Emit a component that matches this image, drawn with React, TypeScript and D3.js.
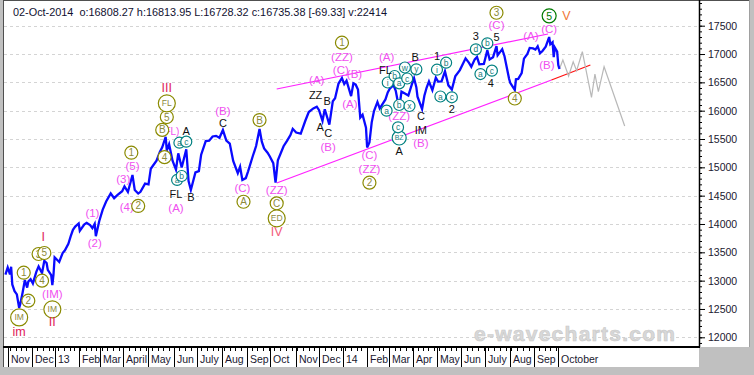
import React, { useEffect, useRef } from "react";
import * as d3 from "d3";

const W = 754;
const H = 375;
const FONT = "'Liberation Sans', Arial, sans-serif";

// NYSE closed days in range -> x axis counts trading days only
const holidays = [
  "2012-10-29", "2012-10-30", "2012-11-22", "2012-12-25",
  "2013-01-01", "2013-01-21", "2013-02-18", "2013-03-29", "2013-05-27",
  "2013-07-04", "2013-09-02", "2013-11-28", "2013-12-25",
  "2014-01-01", "2014-01-20", "2014-02-17", "2014-04-18", "2014-05-26",
  "2014-07-04", "2014-09-01", "2014-11-27", "2014-12-25",
];

// Dow price trace
const price2012: [string, number][] = [
  ["2012-10-26", 13107], ["2012-11-01", 13232], ["2012-11-05", 13112], ["2012-11-06", 13246],
  ["2012-11-07", 12933], ["2012-11-09", 12815], ["2012-11-13", 12756], ["2012-11-15", 12520],
  ["2012-11-16", 12588], ["2012-11-20", 12788], ["2012-11-23", 13010], ["2012-11-27", 12878],
  ["2012-11-28", 12985], ["2012-11-30", 13026], ["2012-12-04", 12951], ["2012-12-07", 13155],
  ["2012-12-11", 13249], ["2012-12-13", 13170], ["2012-12-14", 13135], ["2012-12-18", 13351],
  ["2012-12-20", 13312], ["2012-12-21", 13190], ["2012-12-27", 13096], ["2012-12-28", 12920],
  ["2012-12-31", 13104],
];

const price2013: [string, number][] = [
  ["2013-01-02", 13412], ["2013-01-08", 13329], ["2013-01-11", 13488], ["2013-01-15", 13535],
  ["2013-01-18", 13650], ["2013-01-23", 13780], ["2013-01-25", 13896], ["2013-01-29", 13955],
  ["2013-02-01", 14010], ["2013-02-04", 13880], ["2013-02-08", 13993], ["2013-02-12", 14019],
  ["2013-02-15", 13982], ["2013-02-20", 13928], ["2013-02-22", 14001], ["2013-02-25", 13784],
  ["2013-02-28", 14054], ["2013-03-05", 14254], ["2013-03-08", 14397], ["2013-03-14", 14539],
  ["2013-03-19", 14456], ["2013-03-22", 14512], ["2013-03-28", 14579], ["2013-04-02", 14662],
  ["2013-04-05", 14565], ["2013-04-11", 14865], ["2013-04-15", 14599], ["2013-04-18", 14537],
  ["2013-04-22", 14568], ["2013-04-26", 14713], ["2013-05-01", 14700], ["2013-05-03", 14974],
  ["2013-05-10", 15118], ["2013-05-15", 15275], ["2013-05-17", 15354], ["2013-05-22", 15540],
  ["2013-05-23", 15294], ["2013-05-28", 15409], ["2013-05-31", 15116], ["2013-06-05", 14960],
  ["2013-06-07", 15248], ["2013-06-12", 14996], ["2013-06-18", 15318], ["2013-06-20", 14758],
  ["2013-06-24", 14600], ["2013-06-28", 14910], ["2013-07-03", 14933], ["2013-07-08", 15224],
  ["2013-07-12", 15464], ["2013-07-17", 15470], ["2013-07-22", 15545], ["2013-07-25", 15556],
  ["2013-07-30", 15521], ["2013-08-02", 15658], ["2013-08-07", 15471], ["2013-08-12", 15419],
  ["2013-08-15", 15112], ["2013-08-21", 14897], ["2013-08-23", 15010], ["2013-08-27", 14776],
  ["2013-08-30", 14810], ["2013-09-04", 14930], ["2013-09-10", 15191], ["2013-09-13", 15376],
  ["2013-09-18", 15676], ["2013-09-20", 15452], ["2013-09-24", 15334], ["2013-09-27", 15258],
  ["2013-10-01", 15192], ["2013-10-04", 15073], ["2013-10-08", 14730], ["2013-10-10", 15126],
  ["2013-10-17", 15372], ["2013-10-22", 15468], ["2013-10-25", 15570], ["2013-10-29", 15680],
  ["2013-11-01", 15615], ["2013-11-07", 15594], ["2013-11-13", 15822], ["2013-11-18", 15976],
  ["2013-11-22", 16040], ["2013-11-27", 16070], ["2013-12-02", 16008], ["2013-12-05", 15821],
  ["2013-12-09", 16025], ["2013-12-13", 15755], ["2013-12-18", 16167], ["2013-12-20", 16221],
  ["2013-12-26", 16479], ["2013-12-31", 16577],
];

const price2014: [string, number][] = [
  ["2014-01-03", 16470], ["2014-01-07", 16531], ["2014-01-13", 16257], ["2014-01-15", 16482],
  ["2014-01-17", 16459], ["2014-01-22", 16373], ["2014-01-24", 15879], ["2014-01-28", 15929],
  ["2014-01-31", 15699], ["2014-02-03", 15350], ["2014-02-05", 15440], ["2014-02-07", 15794],
  ["2014-02-11", 15994], ["2014-02-14", 16154], ["2014-02-19", 16041], ["2014-02-21", 16104],
  ["2014-02-26", 16199], ["2014-02-28", 16322], ["2014-03-04", 16395], ["2014-03-07", 16452],
  ["2014-03-11", 16351], ["2014-03-14", 16030], ["2014-03-18", 16336], ["2014-03-21", 16302],
  ["2014-03-26", 16268], ["2014-03-31", 16458], ["2014-04-02", 16573], ["2014-04-04", 16412],
  ["2014-04-07", 16246], ["2014-04-11", 16027], ["2014-04-15", 16263], ["2014-04-17", 16409],
  ["2014-04-22", 16515], ["2014-04-25", 16361], ["2014-04-30", 16581], ["2014-05-02", 16513],
  ["2014-05-07", 16518], ["2014-05-12", 16695], ["2014-05-15", 16447], ["2014-05-20", 16374],
  ["2014-05-23", 16606], ["2014-05-30", 16717], ["2014-06-06", 16924], ["2014-06-11", 16844],
  ["2014-06-13", 16776], ["2014-06-18", 16906], ["2014-06-20", 16947], ["2014-06-24", 16819],
  ["2014-06-30", 16827], ["2014-07-03", 17068], ["2014-07-08", 16906], ["2014-07-11", 16944],
  ["2014-07-16", 17138], ["2014-07-17", 16977], ["2014-07-23", 17086], ["2014-07-25", 16961],
  ["2014-07-31", 16563], ["2014-08-01", 16493], ["2014-08-05", 16430], ["2014-08-07", 16368],
  ["2014-08-08", 16554], ["2014-08-12", 16561], ["2014-08-15", 16663], ["2014-08-19", 16919],
  ["2014-08-22", 17001], ["2014-08-26", 17107], ["2014-08-29", 17098], ["2014-09-03", 17079],
  ["2014-09-05", 17138], ["2014-09-09", 17014], ["2014-09-11", 17049], ["2014-09-16", 17131],
  ["2014-09-19", 17300], ["2014-09-22", 17172], ["2014-09-24", 17210], ["2014-09-25", 16946],
  ["2014-09-26", 17113], ["2014-09-30", 17043], ["2014-10-01", 16804], ["2014-10-02", 16735],
];

// gray projected path after the last bar
const forecastDates = [
  "2014-10-02", "2014-10-07", "2014-10-14", "2014-10-20", "2014-10-23", "2014-10-30",
  "2014-11-11", "2014-11-14", "2014-11-19", "2014-11-26", "2014-12-23",
];
const forecastValues = [16735, 16894, 16612, 16864, 16706, 17041, 16236, 16647, 16335, 16776, 15730];

// channel lines
const upperLineDates = ["2013-10-09", "2014-09-18"];
const upperLineValues = [16383, 17353];
const lowerLineDates = ["2013-10-09", "2014-09-23"];
const lowerLineValues = [14723, 16542];
const redLineDates = ["2014-09-23", "2014-11-10"];
const redLineValues = [16542, 16806];

const yTicks = [12000, 12500, 13000, 13500, 14000, 14500, 15000, 15500, 16000, 16500, 17000, 17500];
const monthLabels = [
  "Nov", "Dec", "13", "Feb", "Mar", "April", "May", "Jun", "July", "Aug", "Sep", "Oct",
  "Nov", "Dec", "14", "Feb", "Mar", "Apr", "May", "Jun", "July", "Aug", "Sep", "October",
];

const header = "02-Oct-2014  o:16808.27 h:16813.95 L:16728.32 c:16735.38 [-69.33] v:22414";

// wave labels: text, style, date, price
const waveLabels: [string, string, string, number][] = [
  ["im", "red", "2012-11-15", 12100],
  ["IM", "olive", "2012-11-15", 12350],
  ["1", "olive", "2012-11-21", 13140],
  ["2", "olive", "2012-11-28", 12646],
  ["3", "olive", "2012-12-11", 13470],
  ["5", "olive", "2012-12-18", 13488],
  ["I", "red", "2012-12-17", 13765],
  ["4", "olive", "2012-12-14", 12999],
  ["(IM)", "mag", "2012-12-28", 12764],
  ["IM", "olive", "2012-12-28", 12494],
  ["II", "red", "2012-12-28", 12265],
  ["(1)", "mag", "2013-02-20", 14189],
  ["(2)", "mag", "2013-02-22", 13659],
  ["(3)", "mag", "2013-04-01", 14789],
  ["(4)", "mag", "2013-04-04", 14295],
  ["2", "olive", "2013-04-18", 14318],
  ["(5)", "mag", "2013-04-11", 15024],
  ["1", "olive", "2013-04-10", 15258],
  ["4", "olive", "2013-05-21", 15180],
  ["(FL)", "mag", "2013-05-29", 15641],
  ["B", "olive", "2013-05-17", 15660],
  ["5", "olive", "2013-05-23", 15888],
  ["FL", "olive", "2013-05-23", 16130],
  ["III", "red", "2013-05-23", 16395],
  ["A", "blk", "2013-06-18", 15647],
  ["a", "teal", "2013-06-10", 15435],
  ["c", "teal", "2013-06-18", 15453],
  ["a", "teal", "2013-06-06", 14777],
  ["b", "teal", "2013-06-12", 14847],
  ["FL", "blk", "2013-06-05", 14529],
  ["B", "blk", "2013-06-24", 14471],
  ["(A)", "mag", "2013-06-05", 14277],
  ["(B)", "mag", "2013-08-02", 16000],
  ["C", "blk", "2013-08-02", 15788],
  ["(C)", "mag", "2013-08-27", 14630],
  ["A", "olive", "2013-08-28", 14393],
  ["B", "olive", "2013-09-18", 15835],
  ["(ZZ)", "mag", "2013-10-09", 14600],
  ["C", "olive", "2013-10-09", 14365],
  ["ED", "olive", "2013-10-09", 14100],
  ["IV", "iv", "2013-10-09", 13864],
  ["A", "blk", "2013-12-03", 15717],
  ["C", "blk", "2013-12-12", 15601],
  ["(B)", "mag", "2013-12-12", 15354],
  ["ZZ", "blk", "2013-11-26", 16277],
  ["B", "blk", "2013-12-11", 16176],
  ["(A)", "mag", "2013-11-27", 16541],
  ["1", "olive", "2013-12-31", 17200],
  ["(ZZ)", "mag", "2013-12-31", 16942],
  ["(C)", "mag", "2013-12-30", 16718],
  ["(B)", "mag", "2014-01-16", 16647],
  ["(A)", "mag", "2014-01-10", 16118],
  ["(C)", "mag", "2014-02-05", 15218],
  ["(ZZ)", "mag", "2014-02-05", 14965],
  ["2", "olive", "2014-02-05", 14729],
  ["BZ", "teal", "2014-03-14", 15518],
  ["A", "blk", "2014-03-14", 15294],
  ["c", "teal", "2014-03-13", 15707],
  ["b", "teal", "2014-03-14", 16100],
  ["(ZZ)", "mag", "2014-03-14", 15905],
  ["a", "teal", "2014-02-27", 16000],
  ["x", "teal", "2014-03-27", 16083],
  ["C", "blk", "2014-04-10", 15901],
  ["IM", "blk", "2014-04-10", 15659],
  ["(B)", "mag", "2014-04-10", 15424],
  ["i", "teal", "2014-02-28", 16497],
  ["b", "teal", "2014-03-10", 16612],
  ["a", "teal", "2014-03-14", 16483],
  ["c", "teal", "2014-03-25", 16568],
  ["w", "teal", "2014-03-21", 16762],
  ["y", "teal", "2014-04-04", 16730],
  ["FL", "blk", "2014-02-26", 16718],
  ["(A)", "mag", "2014-02-27", 16953],
  ["B", "blk", "2014-04-03", 16953],
  ["1", "blk", "2014-05-01", 16965],
  ["b", "teal", "2014-05-13", 16847],
  ["i", "teal", "2014-05-01", 16723],
  ["a", "teal", "2014-05-06", 16250],
  ["c", "teal", "2014-05-20", 16236],
  ["2", "blk", "2014-05-20", 16024],
  ["3", "blk", "2014-06-19", 17327],
  ["d", "teal", "2014-06-19", 17083],
  ["b", "teal", "2014-07-03", 17189],
  ["5", "blk", "2014-07-16", 17295],
  ["3", "olive", "2014-07-16", 17729],
  ["(C)", "mag", "2014-07-16", 17512],
  ["a", "teal", "2014-06-25", 16647],
  ["c", "teal", "2014-07-10", 16706],
  ["4", "blk", "2014-07-09", 16483],
  ["(A)", "mag", "2014-08-27", 17327],
  ["(C)", "mag", "2014-09-19", 17436],
  ["5", "green", "2014-09-19", 17675],
  ["V", "v", "2014-10-10", 17675],
  ["(B)", "mag", "2014-09-17", 16806],
  ["4", "olive", "2014-08-07", 16215],
];

type LabelStyle = { color: string; size: number; ring?: string; r1?: number; r2?: number };
const labelStyles: Record<string, LabelStyle> = {
  olive: { color: "#8c8a3c", size: 10, ring: "#8a8a00", r1: 6.5, r2: 8.5 },
  teal: { color: "#1a8080", size: 8.5, ring: "#008080", r1: 5.5, r2: 7 },
  green: { color: "#007a00", size: 10.5, ring: "#007a00", r1: 7, r2: 8 },
  mag: { color: "#f050f0", size: 11.5 },
  blk: { color: "#111111", size: 11 },
  red: { color: "#e0205a", size: 12.5 },
  iv: { color: "#f25a7a", size: 12.5 },
  v: { color: "#f07838", size: 12.5 },
};

const App: React.FC = () => {
  const svgRef = useRef<SVGSVGElement>(null);

  useEffect(() => {
    if (!svgRef.current) return;
    document.body.style.margin = "0";

    const svg = d3.select(svgRef.current);
    svg.selectAll("*").remove();

    const parse = d3.utcParse("%Y-%m-%d");
    const fmt = d3.utcFormat("%Y-%m-%d");
    const closed = new Set(holidays);
    const tradingDay = d3.utcDay.filter(
      (d) => d.getUTCDay() !== 0 && d.getUTCDay() !== 6 && !closed.has(fmt(d))
    );
    const origin = parse("2012-10-26") as Date;
    const td = (s: string | Date) => {
      const d = typeof s === "string" ? (parse(s) as Date) : s;
      return tradingDay.range(origin, d).length;
    };

    // layout
    const axisX = 699;
    const axisY = 347;

    const x = d3
      .scaleLinear()
      .domain([td("2012-11-01"), td("2014-10-01")])
      .range([7.7, 558.3]);
    const y = d3.scaleLinear().domain([12000, 17500]).range([337.3, 25.7]);

    // window background + panels
    svg.append("rect").attr("width", W).attr("height", H).attr("fill", "#c0c0c0");
    svg.append("rect").attr("x", 3).attr("y", 0).attr("width", 746).attr("height", axisY).attr("fill", "#fff");
    svg.append("rect").attr("x", 3).attr("y", axisY).attr("width", axisX - 3).attr("height", 20).attr("fill", "#fff");
    svg.append("line").attr("x1", 3).attr("x2", 750).attr("y1", 0.5).attr("y2", 0.5).attr("stroke", "#505050");
    svg.append("line").attr("x1", 3.5).attr("x2", 3.5).attr("y1", 0).attr("y2", 367).attr("stroke", "#505050");
    svg.append("line").attr("x1", 749.5).attr("x2", 749.5).attr("y1", 0).attr("y2", axisY).attr("stroke", "#a0a0a0");

    // header
    svg
      .append("text")
      .attr("x", 13)
      .attr("y", 16)
      .attr("font-family", FONT)
      .attr("font-size", 11)
      .attr("fill", "#101030")
      .attr("textLength", 374)
      .attr("lengthAdjust", "spacingAndGlyphs")
      .style("white-space", "pre")
      .text(header);

    // dashed grid
    svg
      .append("g")
      .selectAll("line")
      .data(yTicks)
      .join("line")
      .attr("x1", 4)
      .attr("x2", axisX - 2)
      .attr("y1", (d) => Math.round(y(d)) + 0.5)
      .attr("y2", (d) => Math.round(y(d)) + 0.5)
      .attr("stroke", "#d4d4d4")
      .attr("stroke-dasharray", "3,3");

    // watermark
    svg
      .append("text")
      .attr("x", 474)
      .attr("y", 341)
      .attr("font-family", FONT)
      .attr("font-weight", "bold")
      .attr("font-size", 21)
      .attr("textLength", 201)
      .attr("fill", "#d8d8d8")
      .attr("stroke", "#c8c8c8")
      .attr("stroke-width", 0.6)
      .text("e-wavecharts.com");

    const seg = (dates: string[], values: number[]) =>
      d3.line<number>().x((_, i) => x(td(dates[i]))).y((v) => y(v))(values);

    // channel lines
    svg.append("path").attr("d", seg(upperLineDates, upperLineValues)).attr("stroke", "#ff22ff").attr("stroke-width", 1.2).attr("fill", "none");
    svg.append("path").attr("d", seg(lowerLineDates, lowerLineValues)).attr("stroke", "#ff22ff").attr("stroke-width", 1.2).attr("fill", "none");
    svg.append("path").attr("d", seg(redLineDates, redLineValues)).attr("stroke", "#ff1010").attr("stroke-width", 1.2).attr("fill", "none");

    // projection
    svg.append("path").attr("d", seg(forecastDates, forecastValues)).attr("stroke", "#b8b8b8").attr("stroke-width", 1.2).attr("fill", "none");

    // price
    const prices = [...price2012, ...price2013, ...price2014];
    const priceLine = d3
      .line<[string, number]>()
      .x((d) => x(td(d[0])))
      .y((d) => y(d[1]));
    svg
      .append("path")
      .attr("d", priceLine(prices))
      .attr("stroke", "#0a0aff")
      .attr("stroke-width", 2.3)
      .attr("fill", "none");

    // wave labels
    const lab = svg.append("g").attr("font-family", FONT);
    waveLabels.forEach(([text, kind, date, value]) => {
      const st = labelStyles[kind];
      const cx = x(td(date));
      const cy = y(value);
      if (st.ring) {
        lab
          .append("circle")
          .attr("cx", cx)
          .attr("cy", cy)
          .attr("r", text.length > 1 ? st.r2! : st.r1!)
          .attr("fill", "#fff")
          .attr("stroke", st.ring)
          .attr("stroke-width", 1.2);
      }
      lab
        .append("text")
        .attr("x", cx)
        .attr("y", cy)
        .attr("text-anchor", "middle")
        .attr("dominant-baseline", "central")
        .attr("font-size", text === "(FL)" ? 10 : text.length > 1 && st.ring ? st.size - 1.5 : st.size)
        .attr("fill", st.color)
        .text(text);
    });

    // y axis (right)
    svg.append("rect").attr("x", axisX).attr("y", 1).attr("width", 50).attr("height", axisY - 1).attr("fill", "#fff");
    const yMinor = svg
      .append("g")
      .attr("transform", `translate(${axisX},0)`)
      .call(d3.axisRight(y).tickValues(d3.range(11900, 17901, 100)).tickSize(3).tickFormat(() => ""));
    yMinor.select(".domain").remove();
    const yMajor = svg
      .append("g")
      .attr("transform", `translate(${axisX},0)`)
      .call(d3.axisRight(y).tickValues(yTicks).tickSize(6).tickPadding(3).tickFormat(d3.format("d")));
    yMajor.select(".domain").remove();
    yMajor.attr("font-family", FONT).attr("font-size", 10.5);
    yMajor.selectAll("text").attr("fill", "#201830");
    svg.append("line").attr("x1", axisX + 0.5).attr("x2", axisX + 0.5).attr("y1", 0).attr("y2", axisY).attr("stroke", "#000").attr("stroke-width", 1.5);

    // x axis: month separators, weekly ticks
    const months = d3.utcMonth.range(parse("2012-11-01") as Date, parse("2014-10-02") as Date);
    const weeks = d3.utcMonday.range(parse("2012-11-02") as Date, parse("2014-10-01") as Date);
    const xa = svg.append("g");
    xa.selectAll(".wk")
      .data(weeks)
      .join("line")
      .attr("x1", (d) => Math.round(x(td(d))) + 0.5)
      .attr("x2", (d) => Math.round(x(td(d))) + 0.5)
      .attr("y1", axisY)
      .attr("y2", axisY + 4)
      .attr("stroke", "#000");
    xa.selectAll(".mo")
      .data(months)
      .join("line")
      .attr("x1", (d) => Math.round(x(td(d))) + 0.5)
      .attr("x2", (d) => Math.round(x(td(d))) + 0.5)
      .attr("y1", axisY)
      .attr("y2", axisY + 20)
      .attr("stroke", "#000");
    xa.selectAll("text")
      .data(months)
      .join("text")
      .attr("x", (d) => Math.round(x(td(d))) + 3)
      .attr("y", 363)
      .attr("font-family", FONT)
      .attr("font-size", 10.5)
      .attr("fill", "#201830")
      .text((_, i) => monthLabels[i]);
    svg.append("line").attr("x1", 3).attr("x2", axisX + 1).attr("y1", axisY).attr("y2", axisY).attr("stroke", "#000").attr("stroke-width", 2);
  }, []);

  return <svg ref={svgRef} width={W} height={H} style={{ display: "block" }} />;
};

export default App;
